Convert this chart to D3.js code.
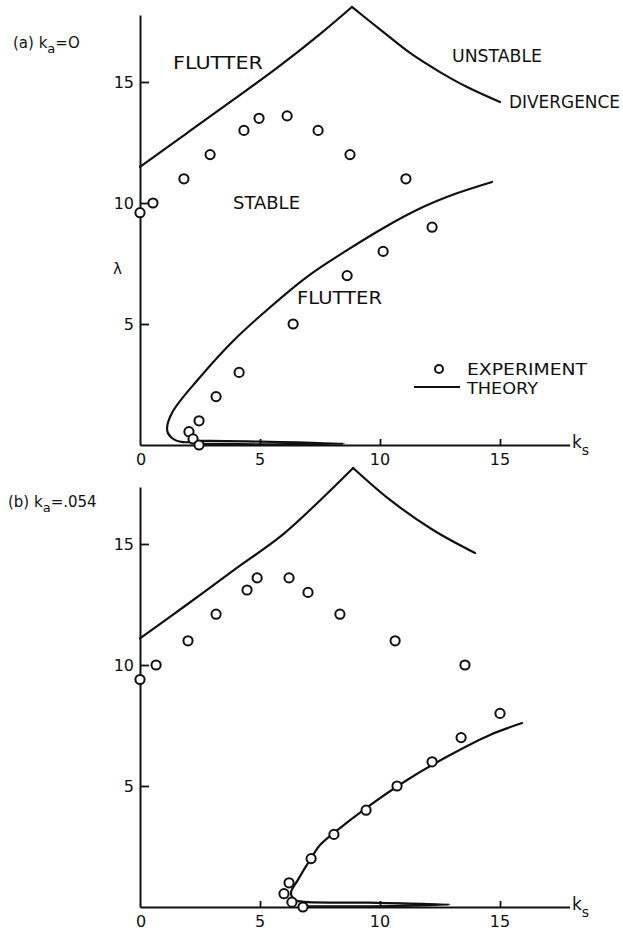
<!DOCTYPE html>
<html>
<head>
<meta charset="utf-8">
<script src="https://cdn.jsdelivr.net/npm/d3@7"></script>
<style>
  html, body { margin: 0; padding: 0; background: #fff; }
  svg { display: block; }
  text { font-family: "DejaVu Sans", "Liberation Sans", sans-serif; fill: #111; }
</style>
</head>
<body>
<svg id="chart" width="623" height="932"></svg>
<script>
// Axis ticks
const ksTicks = [5, 10, 15];
const ksLabels = [0, 5, 10, 15];
const lambdaTicks = [5, 10, 15];

// Panel (a): k_a = 0
const aFlutterKs  = [0, 1.96, 3.88, 5.71, 7.5, 8.83];
const aFlutterLam = [11.49, 12.89, 14.26, 15.58, 16.98, 18.1];
const aDivKs  = [8.83, 10.13, 11.25, 12.5, 13.63, 15.0];
const aDivLam = [18.1, 17.07, 16.2, 15.41, 14.79, 14.17];
const aLowKs  = [14.67, 13.2, 11.79, 10.2, 8.63, 6.96, 5.29, 3.88, 2.5, 1.33, 1.13, 1.33, 1.79, 2.6, 5.0, 8.5, 5.0, 2.6];
const aLowLam = [10.87, 10.4, 9.83, 9.0, 8.05, 6.95, 5.58, 4.3, 2.8, 1.32, 0.62, 0.29, 0.12, 0.17, 0.14, 0.05, 0.03, 0.05];
const aExpKs  = [0, 0.54, 1.83, 2.92, 4.33, 4.96, 6.13, 7.42, 8.75, 11.08, 12.17, 10.13, 8.63, 6.38, 4.13, 3.17, 2.46, 2.04, 2.21, 2.46];
const aExpLam = [9.6, 10.0, 11.0, 12.0, 13.0, 13.5, 13.6, 13.0, 12.0, 11.0, 9.0, 8.0, 7.0, 5.0, 3.0, 2.0, 1.0, 0.55, 0.25, 0];

// Panel (b): k_a = .054
const bFlutterKs  = [0, 1.96, 3.88, 5.96, 7.5, 8.88];
const bFlutterLam = [11.1, 12.5, 13.9, 15.4, 16.8, 18.14];
const bDivKs  = [8.88, 10.42, 12.21, 13.96];
const bDivLam = [18.14, 16.82, 15.58, 14.63];
const bLowKs  = [15.92, 14.58, 12.92, 11.13, 9.42, 8.08, 7.5, 7.13, 6.58, 6.29, 6.46, 6.88, 9.5, 12.9, 9.5, 6.9];
const bLowLam = [7.6, 7.11, 6.28, 5.25, 4.09, 3.06, 2.56, 2.02, 1.12, 0.58, 0.29, 0.21, 0.18, 0.1, 0.03, 0.03];
const bExpKs  = [0, 0.67, 2.0, 3.17, 4.46, 4.88, 6.21, 7.0, 8.33, 10.63, 13.54, 15.0, 13.38, 12.17, 10.71, 9.42, 8.08, 7.13, 6.21, 6.0, 6.33, 6.79];
const bExpLam = [9.4, 10.0, 11.0, 12.1, 13.1, 13.6, 13.6, 13.0, 12.1, 11.0, 10.0, 8.0, 7.0, 6.0, 5.0, 4.0, 3.0, 2.0, 1.0, 0.55, 0.2, 0];

const zip = (xs, ys) => xs.map((v, i) => [v, ys[i]]);

const svg = d3.select("#chart");
const x = d3.scaleLinear().domain([0, 17.9]).range([140, 569.6]);

function panel(cfg) {
  const y = d3.scaleLinear().domain([0, cfg.top]).range([cfg.y0, cfg.y0 - cfg.top * 24.2]);
  const g = svg.append("g");
  const line = d3.line().x(d => x(d[0])).y(d => y(d[1])).curve(d3.curveCatmullRom.alpha(0.5));

  // axes: ticks point into the plot
  const xAxis = d3.axisBottom(x).tickValues(ksTicks).tickSizeInner(-6).tickSizeOuter(0).tickFormat("");
  const yAxis = d3.axisLeft(y).tickValues(lambdaTicks).tickSizeInner(-9).tickSizeOuter(0).tickPadding(6);
  const gx = g.append("g").attr("transform", `translate(0,${cfg.y0})`).call(xAxis);
  const gy = g.append("g").attr("transform", `translate(${x(0)},0)`).call(yAxis);
  [gx, gy].forEach(a => {
    a.select(".domain").attr("stroke", "#111").attr("stroke-width", 2);
    a.selectAll(".tick line").attr("stroke", "#111").attr("stroke-width", 1.8);
  });
  gy.selectAll(".tick text").attr("font-size", 16).attr("font-family", "DejaVu Sans").attr("fill", "#111")
    .attr("dy", "0.36em");

  g.selectAll(".kslab").data(ksLabels).enter().append("text")
    .attr("x", d => x(d) + (d === 0 ? 1 : 0)).attr("y", cfg.y0 + 20)
    .attr("text-anchor", "middle").attr("font-size", 16).text(d => d);

  // k_s axis title
  const kt = g.append("text").attr("x", 572).attr("y", cfg.y0 + 3).attr("font-size", 17);
  kt.append("tspan").text("k");
  kt.append("tspan").attr("font-size", 14).attr("dy", 7).text("s");

  // theory curves
  const curves = [zip(cfg.fk, cfg.fl), zip(cfg.dk, cfg.dl), zip(cfg.lk, cfg.ll)];
  g.selectAll(".theory").data(curves).enter().append("path")
    .attr("d", line).attr("fill", "none").attr("stroke", "#111")
    .attr("stroke-width", 2.2).attr("stroke-linejoin", "round").attr("stroke-linecap", "round");

  // experimental points
  g.selectAll(".exp").data(zip(cfg.ek, cfg.el)).enter().append("circle")
    .attr("cx", d => x(d[0])).attr("cy", d => y(d[1])).attr("r", 4.6)
    .attr("fill", "#fff").attr("stroke", "#111").attr("stroke-width", 2);

  // panel title
  const t = g.append("text").attr("x", cfg.tx).attr("y", cfg.ty).attr("font-size", 15);
  t.append("tspan").text(cfg.pre);
  t.append("tspan").attr("font-size", 13).attr("dy", 5).text("a");
  t.append("tspan").attr("dy", -5).text(cfg.post);
  return { g, y };
}

panel({
  y0: 445, top: 17.77,
  fk: aFlutterKs, fl: aFlutterLam, dk: aDivKs, dl: aDivLam, lk: aLowKs, ll: aLowLam,
  ek: aExpKs, el: aExpLam, tx: 13, ty: 48, pre: "(a) k", post: "=O"
});
panel({
  y0: 907, top: 17.36,
  fk: bFlutterKs, fl: bFlutterLam, dk: bDivKs, dl: bDivLam, lk: bLowKs, ll: bLowLam,
  ek: bExpKs, el: bExpLam, tx: 8, ty: 507, pre: "(b) k", post: "=.054"
});

// region labels in panel (a) and legend entries
const regionLabels = [
  { t: "FLUTTER", x: 173, y: 69, w: 90, s: 17 },
  { t: "UNSTABLE", x: 452, y: 62, w: 90, s: 17 },
  { t: "DIVERGENCE", x: 509, y: 108, w: 111, s: 17 },
  { t: "STABLE", x: 233, y: 209, w: 67, s: 17 },
  { t: "FLUTTER", x: 297, y: 304, w: 85, s: 17 },
  { t: "EXPERIMENT", x: 467, y: 375, w: 120, s: 15 },
  { t: "THEORY", x: 467, y: 394, w: 71, s: 15 }
];
svg.selectAll(".region").data(regionLabels).enter().append("text")
  .attr("x", d => d.x).attr("y", d => d.y).attr("font-size", d => d.s)
  .attr("textLength", d => d.w).attr("lengthAdjust", "spacingAndGlyphs").text(d => d.t);

// legend marks
svg.append("circle").attr("cx", 439).attr("cy", 369).attr("r", 4)
  .attr("fill", "#fff").attr("stroke", "#111").attr("stroke-width", 2);
svg.append("line").attr("x1", 414).attr("x2", 460).attr("y1", 387).attr("y2", 387)
  .attr("stroke", "#111").attr("stroke-width", 2.2);

// lambda axis title
svg.append("text").attr("x", 113).attr("y", 274).attr("font-size", 15).text("λ");
</script>
</body>
</html>
